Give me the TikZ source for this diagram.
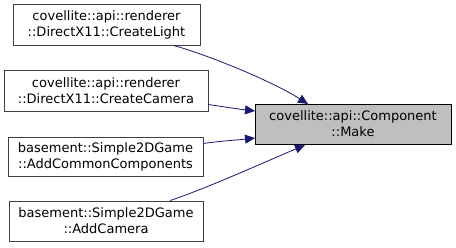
\documentclass[tikz,border=0pt]{standalone}
\usepackage{fontspec}
\setmainfont{DejaVu Sans}
\usetikzlibrary{arrows.meta}
\definecolor{edgeblue}{HTML}{191970}
\definecolor{boxline}{HTML}{404040}
\begin{document}
\begin{tikzpicture}[x=1pt,y=-1pt,
  fn/.style={draw=boxline,line width=0.9pt,fill=white,inner sep=0pt,
    font=\fontsize{13}{16}\selectfont,align=center},
  target/.style={fn,fill=gray!50,draw=black},
  call/.style={draw=edgeblue,line width=0.8pt,
    -{Triangle[length=10pt,width=9pt,fill=edgeblue]}}]
\useasboundingbox[fill=white] (0,0) rectangle (456,248);
% callers
\node[fn,minimum width=187pt,minimum height=41pt] (light) at (106.5,24.5)
  {covellite::api::renderer\\::DirectX11::CreateLight};
\node[fn,minimum width=204pt,minimum height=41pt] (camera) at (106,90.5)
  {covellite::api::renderer\\::DirectX11::CreateCamera};
\node[fn,minimum width=195pt,minimum height=39pt] (common) at (105.5,156.5)
  {basement::Simple2DGame\\::AddCommonComponents};
\node[fn,minimum width=194pt,minimum height=40pt] (addcam) at (106,221)
  {basement::Simple2DGame\\::AddCamera};
% callee
\node[target,minimum width=196pt,minimum height=40pt] (make) at (353,124)
  {covellite::api::Component\\::Make};
% call edges
\coordinate (m1) at (308,104);
\coordinate (m2) at (255,111);
\coordinate (m3) at (255,138);
\coordinate (m4) at (305,145);
\draw[call] (light.south east) ++(-27,0) coordinate (s1)
  .. controls (205,54) and (270,80) .. (m1);
\draw[call] (camera.east) ++(0,14) coordinate (s2)
  .. controls (225,107) and (238,109) .. (m2);
\draw[call] (common.east) ++(0,-13) coordinate (s3)
  .. controls (220,141) and (238,140) .. (m3);
\draw[call] (addcam.north) ++(64,0) coordinate (s4)
  .. controls (205,189) and (265,162) .. (m4);
\end{tikzpicture}
\end{document}
